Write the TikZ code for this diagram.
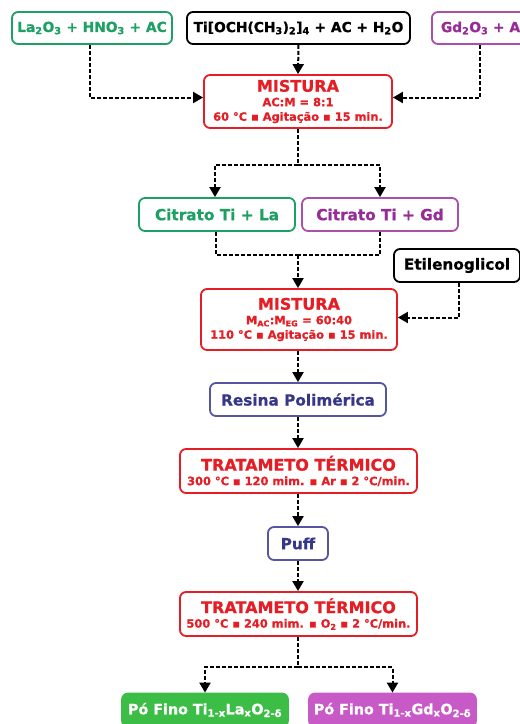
\documentclass[tikz,border=0pt]{standalone}
\usepackage{fontspec}
\setmainfont{DejaVu Sans}[BoldFeatures={FakeBold=0.8}]
\usetikzlibrary{arrows.meta}
\definecolor{cgreen}{RGB}{30,160,100}
\definecolor{cpurple}{RGB}{150,45,150}
\definecolor{cpurpleb}{RGB}{170,80,170}
\definecolor{cred}{RGB}{228,30,36}
\definecolor{cblue}{RGB}{55,55,135}
\definecolor{cblueb}{RGB}{85,85,160}
\definecolor{cfgreen}{RGB}{60,190,70}
\definecolor{cfpurple}{RGB}{200,90,200}
\newcommand\sbs[1]{\textsubscript{#1}}
\begin{document}
\begin{tikzpicture}[x=1pt,y=-1pt,
  box/.style={draw, rounded corners=6pt, line width=1.8pt, align=center, inner sep=0pt,
    font=\bfseries\fontsize{13.8}{16}\selectfont},
  midfont/.style={font=\bfseries\fontsize{15.3}{17}\selectfont},
  prodfont/.style={font=\bfseries\fontsize{14.3}{17}\selectfont},
  redbox/.style={box, draw=cred, text=cred, font=\bfseries\fontsize{11.4}{14.5}\selectfont},
  greenbox/.style={box, draw=cgreen, text=cgreen},
  purplebox/.style={box, draw=cpurpleb, text=cpurple},
  blackbox/.style={box, draw=black, text=black},
  bluebox/.style={box, draw=cblueb, text=cblue, midfont},
  conn/.style={line width=2pt, dash pattern=on 4pt off 2pt},
  arr/.style={conn, -{Triangle[width=11pt,length=10pt]}},
]
\path[use as bounding box] (0,0) rectangle (520,724);
\begin{scope}
\clip (0,0) rectangle (520,724);
% top inputs
\node[greenbox, minimum width=160, minimum height=32] (la) at (92,28) {La\sbs{2}O\sbs{3} + HNO\sbs{3} + AC};
\node[blackbox, minimum width=223, minimum height=32] (ti) at (298.5,28) {Ti[OCH(CH\sbs{3})\sbs{2}]\sbs{4} + AC + H\sbs{2}O};
\node[purplebox, minimum height=32, inner xsep=9pt, anchor=west] (gd) at (431,28) {Gd\sbs{2}O\sbs{3} + AC};
% mistura 1
\node[redbox, minimum width=188, minimum height=53] (m1) at (298,101.5)
  {{\fontsize{16}{16}\selectfont MISTURA}\\AC:M = 8:1\\60 °C ▪ Agitação ▪ 15 min.};
% citratos
\node[greenbox, midfont, minimum width=156, minimum height=33] (cla) at (217,214.5) {Citrato Ti + La};
\node[purplebox, midfont, minimum width=156, minimum height=33] (cgd) at (380,214.5) {Citrato Ti + Gd};
\node[blackbox, midfont, minimum width=126, minimum height=33] (eg) at (457,265.5) {Etilenoglicol};
% mistura 2
\node[redbox, minimum width=196, minimum height=61] (m2) at (299,319.5)
  {{\fontsize{16}{16}\selectfont MISTURA}\\M\sbs{AC}:M\sbs{EG} = 60:40\\110 °C ▪ Agitação ▪ 15 min.};
\node[bluebox, minimum width=176, minimum height=33] (res) at (298,399.5) {Resina Polimérica};
\node[redbox, minimum width=237, minimum height=44] (t1) at (298.5,471)
  {{\fontsize{16}{16}\selectfont TRATAMETO TÉRMICO}\\300 °C ▪ 120 mim. ▪ Ar ▪ 2 °C/min.};
\node[bluebox, minimum width=60, minimum height=33] (puff) at (298,543.5) {Puff};
\node[redbox, minimum width=237, minimum height=44] (t2) at (298.5,614)
  {{\fontsize{16}{16}\selectfont TRATAMETO TÉRMICO}\\500 °C ▪ 240 mim. ▪ O\sbs{2} ▪ 2 °C/min.};
% products
\node[box, prodfont, draw=cfgreen, fill=cfgreen, text=white, minimum width=166, minimum height=33] (pla) at (205,710)
  {Pó Fino Ti\sbs{1-x}La\sbs{x}O\sbs{2-δ}};
\node[box, prodfont, draw=cfpurple, fill=cfpurple, text=white, minimum width=167, minimum height=33] (pgd) at (392.5,710)
  {Pó Fino Ti\sbs{1-x}Gd\sbs{x}O\sbs{2-δ}};
% connectors
\draw[arr] ([xshift=-2pt]la.south) |- ([yshift=4pt]m1.west);
\draw[arr] (ti.south) -- (m1.north);
\draw[arr] ([xshift=49pt]gd.south west) |- ([yshift=4pt]m1.east);
\coordinate (s1) at (298,165);
\draw[conn] (m1.south) -- (s1);
\draw[arr] (s1) -| ([xshift=-2pt]cla.north);
\draw[arr] (s1) -| (cgd.north);
\coordinate (j2) at (298,255);
\draw[conn] ([xshift=-1pt]cla.south) |- (j2);
\draw[conn] (cgd.south) |- (j2);
\draw[arr] (j2) -- (m2.north -| j2);
\draw[arr] ([xshift=2pt]eg.south) |- ([yshift=2pt]m2.east);
\draw[arr] (m2.south -| res) -- (res.north);
\draw[arr] (res.south) -- (t1.north -| res);
\draw[arr] (t1.south -| puff) -- (puff.north);
\draw[arr] (puff.south) -- (t2.north -| puff);
\coordinate (s2) at (298,667);
\draw[conn] (t2.south -| s2) -- (s2);
\draw[arr] (s2) -| (pla.north);
\draw[arr] (s2) -| (pgd.north);
\end{scope}
\end{tikzpicture}
\end{document}
